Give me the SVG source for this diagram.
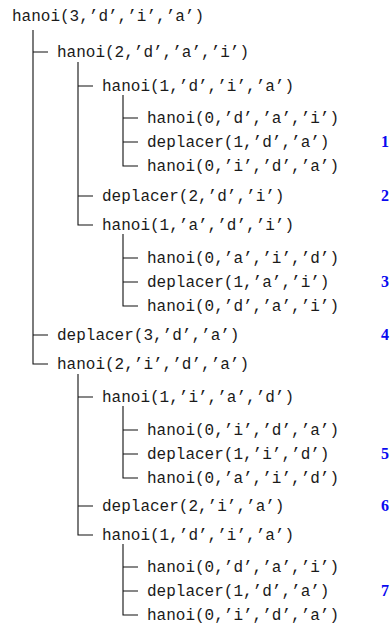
<svg xmlns="http://www.w3.org/2000/svg" width="392" height="627" viewBox="0 0 392 627">
<style>
.t{font-family:"Liberation Mono","Courier New",monospace;font-size:16px;fill:#1a1a1a}
.n{font-family:"Liberation Serif","Times New Roman",serif;font-size:16px;font-weight:bold;fill:#0a0af0;text-anchor:end}
.c{stroke:#111;stroke-width:1.1;fill:none}
</style>
<rect width="392" height="627" fill="#fff"/>
<g id="connectors" class="c">
<path d="M33,30 V364 H48 M33,52 H48 M33,335 H48"/>
<path d="M78,62 V225 H93 M78,86 H93 M78,196 H93"/>
<path d="M123,95 V166 H138 M123,118 H138 M123,142 H138"/>
<path d="M123,234 V306 H138 M123,258 H138 M123,282 H138"/>
<path d="M78,374 V535 H93 M78,397 H93 M78,506 H93"/>
<path d="M123,406 V478 H138 M123,430 H138 M123,454 H138"/>
<path d="M123,544 V615 H138 M123,567 H138 M123,591 H138"/>
</g>
<g id="n1"><text class="t" x="12" y="21">hanoi(3,’d’,’i’,’a’)</text></g>
<g id="n2"><text class="t" x="57" y="57">hanoi(2,’d’,’a’,’i’)</text></g>
<g id="n3"><text class="t" x="102" y="91">hanoi(1,’d’,’i’,’a’)</text></g>
<g id="n4"><text class="t" x="147" y="123">hanoi(0,’d’,’a’,’i’)</text></g>
<g id="n5"><text class="t" x="147" y="147">deplacer(1,’d’,’a’)</text><text class="n" x="389" y="147">1</text></g>
<g id="n6"><text class="t" x="147" y="171">hanoi(0,’i’,’d’,’a’)</text></g>
<g id="n7"><text class="t" x="102" y="201">deplacer(2,’d’,’i’)</text><text class="n" x="389" y="201">2</text></g>
<g id="n8"><text class="t" x="102" y="230">hanoi(1,’a’,’d’,’i’)</text></g>
<g id="n9"><text class="t" x="147" y="263">hanoi(0,’a’,’i’,’d’)</text></g>
<g id="n10"><text class="t" x="147" y="287">deplacer(1,’a’,’i’)</text><text class="n" x="389" y="287">3</text></g>
<g id="n11"><text class="t" x="147" y="311">hanoi(0,’d’,’a’,’i’)</text></g>
<g id="n12"><text class="t" x="57" y="340">deplacer(3,’d’,’a’)</text><text class="n" x="389" y="340">4</text></g>
<g id="n13"><text class="t" x="57" y="369">hanoi(2,’i’,’d’,’a’)</text></g>
<g id="n14"><text class="t" x="102" y="402">hanoi(1,’i’,’a’,’d’)</text></g>
<g id="n15"><text class="t" x="147" y="435">hanoi(0,’i’,’d’,’a’)</text></g>
<g id="n16"><text class="t" x="147" y="459">deplacer(1,’i’,’d’)</text><text class="n" x="389" y="459">5</text></g>
<g id="n17"><text class="t" x="147" y="483">hanoi(0,’a’,’i’,’d’)</text></g>
<g id="n18"><text class="t" x="102" y="511">deplacer(2,’i’,’a’)</text><text class="n" x="389" y="511">6</text></g>
<g id="n19"><text class="t" x="102" y="540">hanoi(1,’d’,’i’,’a’)</text></g>
<g id="n20"><text class="t" x="147" y="572">hanoi(0,’d’,’a’,’i’)</text></g>
<g id="n21"><text class="t" x="147" y="596">deplacer(1,’d’,’a’)</text><text class="n" x="389" y="596">7</text></g>
<g id="n22"><text class="t" x="147" y="620">hanoi(0,’i’,’d’,’a’)</text></g>
</svg>
